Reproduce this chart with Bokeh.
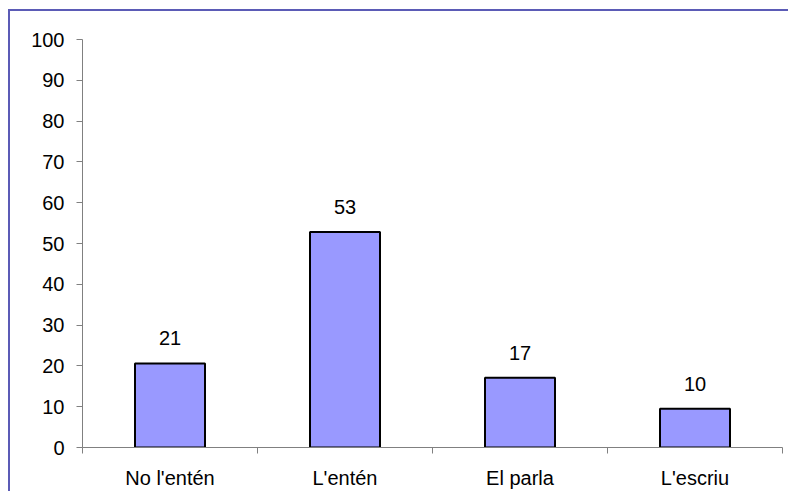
from bokeh.plotting import figure
from bokeh.models import ColumnDataSource, Range1d, FixedTicker, LabelSet
from bokeh.core.properties import value
from bokeh.embed import file_html
from bokeh.resources import INLINE

categories = ["No l'entén", "L'entén", "El parla", "L'escriu"]
values = [20.6, 52.8, 17.1, 9.5]
labels = ["21", "53", "17", "10"]
y_ticks = [0, 10, 20, 30, 40, 50, 60, 70, 80, 90, 100]

xs = [i + 0.5 for i in range(len(categories))]
src = ColumnDataSource(dict(x=xs, top=values, lab=labels))

p = figure(width=780, height=482, output_backend="svg", toolbar_location=None,
           x_range=Range1d(0, len(categories)), y_range=Range1d(0, 100),
           min_border_left=72, min_border_right=8, min_border_top=28, min_border_bottom=46)
p.styles = {"border-top": "2px solid #5b5bb6", "border-left": "2px solid #5b5bb6",
            "margin-left": "8px", "margin-top": "9px"}
p.outline_line_color = None
p.xgrid.visible = False
p.ygrid.visible = False

p.vbar(x="x", top="top", width=0.4, bottom=0, source=src,
       fill_color="#9999FF", line_color="black", line_width=2)

font = "Liberation Sans"
fsize = "20px"

lbl = LabelSet(x="x", y="top", text="lab", source=src, text_align="center",
               text_baseline="bottom", y_offset=18, text_font=value(font),
               text_font_size=value(fsize), text_color="black")
p.add_layout(lbl)

ax = p.xaxis[0]
ax.ticker = FixedTicker(ticks=xs, minor_ticks=list(range(len(categories) + 1)))
ax.major_label_overrides = {x: c for x, c in zip(xs, categories)}
ax.major_tick_out = 0
ax.major_tick_in = 0
ax.minor_tick_out = 6
ax.minor_tick_in = 0
ax.minor_tick_line_color = "#808080"
ax.axis_line_color = "#808080"
ax.major_label_text_font = font
ax.major_label_text_font_size = fsize
ax.major_label_text_color = "black"
ax.major_label_standoff = 13

ay = p.yaxis[0]
ay.ticker = FixedTicker(ticks=y_ticks)
ay.major_tick_out = 6
ay.major_tick_in = 0
ay.minor_tick_out = 0
ay.minor_tick_in = 0
ay.major_tick_line_color = "#808080"
ay.axis_line_color = "#808080"
ay.major_label_text_font = font
ay.major_label_text_font_size = fsize
ay.major_label_text_color = "black"
ay.major_label_standoff = 12

open("out.html", "w").write(file_html(p, INLINE))
